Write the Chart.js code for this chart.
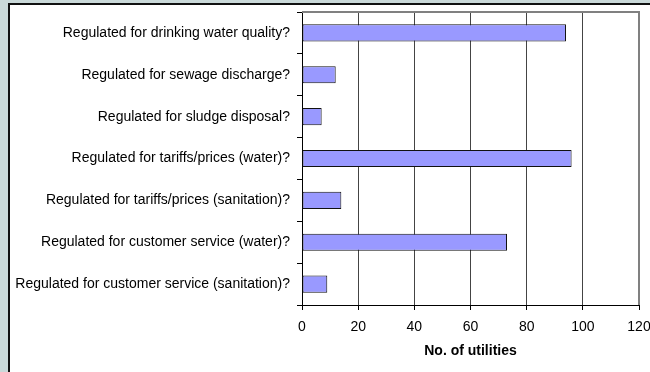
<!DOCTYPE html>
<html>
<head>
<meta charset="utf-8">
<script src="https://cdn.jsdelivr.net/npm/chart.js@4/dist/chart.umd.min.js"></script>
<style>
  html, body { margin: 0; padding: 0; }
  body { width: 650px; height: 372px; background: #cad9d9; position: relative; overflow: hidden; }
  #panel { position: absolute; left: 8px; top: 3px; width: 700px; height: 420px; background: #fff; border-left: 2px solid #111; border-top: 2px solid #111; }
  #c { position: absolute; left: 0; top: 0; }
</style>
</head>
<body>
<div id="panel"></div>
<canvas id="c" width="650" height="372"></canvas>
<script>
// categories, top to bottom
const categories = [
  'Regulated for drinking water quality?',
  'Regulated for sewage discharge?',
  'Regulated for sludge disposal?',
  'Regulated for tariffs/prices (water)?',
  'Regulated for tariffs/prices (sanitation)?',
  'Regulated for customer service (water)?',
  'Regulated for customer service (sanitation)?'
];
const utilities = [94, 12, 7, 96, 14, 73, 9];
const xTicks = [0, 20, 40, 60, 80, 100, 120];
const xTitle = 'No. of utilities';

// gray frame on top and right of plot area
const plotFrame = {
  id: 'plotFrame',
  afterDraw(chart) {
    const a = chart.chartArea, ctx = chart.ctx;
    ctx.save();
    ctx.strokeStyle = '#808080';
    ctx.lineWidth = 2;
    ctx.beginPath();
    ctx.moveTo(a.left, a.top);
    ctx.lineTo(a.right, a.top);
    ctx.lineTo(a.right, a.bottom);
    ctx.stroke();
    ctx.restore();
  }
};

Chart.defaults.font.family = '"Liberation Sans", Arial, sans-serif';
Chart.defaults.font.size = 14;
Chart.defaults.color = '#000';

new Chart(document.getElementById('c').getContext('2d'), {
  type: 'bar',
  data: {
    labels: categories,
    datasets: [{
      data: utilities,
      backgroundColor: '#9999ff',
      borderColor: '#111',
      borderWidth: 1,
      borderSkipped: false,
      categoryPercentage: 1,
      barPercentage: 0.41
    }]
  },
  plugins: [plotFrame],
  options: {
    indexAxis: 'y',
    responsive: false,
    animation: false,
    layout: { padding: { top: 12, right: 11, left: 0, bottom: 0 } },
    plugins: { legend: { display: false }, tooltip: { enabled: false } },
    scales: {
      x: {
        min: 0, max: 120,
        afterBuildTicks: s => { s.ticks = xTicks.map(v => ({ value: v })); },
        afterFit: s => { s.height = 67; s.paddingLeft = 0; s.paddingRight = 0; },
        grid: { color: '#444', lineWidth: 1, tickLength: 5, tickColor: '#000' },
        border: { color: '#000', width: 1 },
        ticks: { padding: 9, maxRotation: 0 },
        title: { display: true, text: xTitle, font: { weight: 'bold', size: 14 }, padding: { top: 0, bottom: 12 } }
      },
      y: {
        afterFit: s => { s.width = 302; s.paddingTop = 0; s.paddingBottom = 0; },
        grid: { drawOnChartArea: false, tickLength: 5, tickColor: '#000', offset: true },
        border: { color: '#000', width: 1 },
        ticks: { padding: 7, autoSkip: false }
      }
    }
  }
});
</script>
</body>
</html>
